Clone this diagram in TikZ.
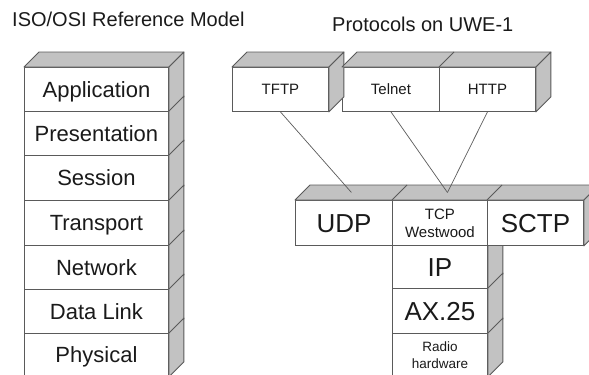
\documentclass[tikz,border=0pt]{standalone}
\usepackage{fontspec}
\setmainfont{Liberation Sans}
\usetikzlibrary{calc}
\definecolor{edgec}{HTML}{5A5A5A}
\definecolor{shadec}{HTML}{C2C2C2}
\definecolor{inkc}{HTML}{1A1A1A}
\begin{document}
\begin{tikzpicture}[x=1bp,y=-1bp,
  face/.style={draw=edgec, line width=0.9bp, fill=white, inner sep=0pt,
    anchor=north west, text=inkc},
  osi/.style={face, minimum width=144bp, font=\fontsize{22bp}{26bp}\selectfont,
    text height=15.8bp, text depth=0pt},
  big/.style={face, font=\fontsize{26bp}{30bp}\selectfont, text height=18.6bp, text depth=0pt},
  small/.style={face, font=\fontsize{15bp}{18bp}\selectfont, text height=10.7bp, text depth=0pt},
  twoline/.style={face, align=center},
  shade/.style={draw=edgec, line width=0.9bp, fill=shadec, line join=round},
  divider/.style={draw=edgec, line width=0.9bp},
  link/.style={draw=edgec, line width=0.7bp},
  title/.style={anchor=base west, inner sep=0pt, text=inkc, font=\fontsize{20bp}{24bp}\selectfont}]
\useasboundingbox (0,0) rectangle (589,374);
\clip (0,0) rectangle (589,374);
\def\dep{15}

% ---------------- titles
\node[title] (t1) at (12,26) {ISO/OSI Reference Model};
\node[title] (t2) at (332,31) {Protocols on UWE-1};

% ---------------- OSI stack
\node[osi, minimum height=44bp] (app) at (24,67) {Application};
\node[osi, minimum height=44bp] (pre) at (24,111) {Presentation};
\node[osi, minimum height=45bp] (ses) at (24,155) {Session};
\node[osi, minimum height=45bp] (tra) at (24,200) {Transport};
\node[osi, minimum height=44bp] (net) at (24,245) {Network};
\node[osi, minimum height=44bp] (dat) at (24,289) {Data Link};
\node[osi, minimum height=43bp] (phy) at (24,333) {Physical};
\draw[shade] (app.north west) -- ++(\dep,-\dep) -- ($(app.north east)+(\dep,-\dep)$) -- (app.north east) -- cycle;
\foreach \n in {app,pre,ses,tra,net,dat,phy}{
  \draw[shade] (\n.north east) -- ++(\dep,-\dep) -- ($(\n.south east)+(\dep,-\dep)$) -- (\n.south east) -- cycle;
}

% ---------------- application protocols
\node[small, minimum width=96bp, minimum height=44bp] (tftp) at (232,67) {TFTP};
\node[small, minimum width=97bp, minimum height=44bp] (telnet) at (342,67) {Telnet};
\node[small, minimum width=96bp, minimum height=44bp] (http) at (439,67) {HTTP};
\draw[shade] (tftp.north west) -- ++(\dep,-\dep) -- ($(tftp.north east)+(\dep,-\dep)$) -- (tftp.north east) -- cycle;
\draw[shade] (tftp.north east) -- ++(\dep,-\dep) -- ($(tftp.south east)+(\dep,-\dep)$) -- (tftp.south east) -- cycle;
\draw[shade] (telnet.north west) -- ++(\dep,-\dep) -- ($(http.north east)+(\dep,-\dep)$) -- (http.north east) -- cycle;
\draw[divider] (http.north west) -- ++(\dep,-\dep);
\draw[shade] (http.north east) -- ++(\dep,-\dep) -- ($(http.south east)+(\dep,-\dep)$) -- (http.south east) -- cycle;

% ---------------- lower stack (drawn before transport row)
\node[big, minimum width=95bp, minimum height=43bp] (ip) at (392,245) {IP};
\node[big, minimum width=95bp, minimum height=45bp] (ax) at (392,288) {AX.25};
\node[face, align=center, minimum width=95bp, minimum height=43bp,
  font=\fontsize{13.5bp}{17bp}\selectfont] (radio) at (392,333) {Radio\\hardware};
\foreach \n in {ip,ax,radio}{
  \draw[shade] (\n.north east) -- ++(\dep,-\dep) -- ($(\n.south east)+(\dep,-\dep)$) -- (\n.south east) -- cycle;
}

% ---------------- transport row
\node[big, minimum width=97bp, minimum height=45bp] (udp) at (295,200) {UDP};
\node[twoline, minimum width=95bp, minimum height=45bp,
  font=\fontsize{15bp}{18bp}\selectfont] (tcp) at (392,200) {TCP\\Westwood};
\node[big, minimum width=96bp, minimum height=45bp] (sctp) at (487,200) {SCTP};
\draw[shade] (udp.north west) -- ++(\dep,-\dep) -- ($(sctp.north east)+(\dep,-\dep)$) -- (sctp.north east) -- cycle;
\draw[divider] (tcp.north west) -- ++(\dep,-\dep);
\draw[divider] (sctp.north west) -- ++(\dep,-\dep);
\draw[shade] (sctp.north east) -- ++(\dep,-\dep) -- ($(sctp.south east)+(\dep,-\dep)$) -- (sctp.south east) -- cycle;

% ---------------- connectors
\coordinate (udptop) at ($(udp.north)+(7.5,-7.5)$);
\coordinate (tcptop) at ($(tcp.north)+(7.5,-7.5)$);
\draw[link] (tftp.south) -- (udptop);
\draw[link] (telnet.south) -- (tcptop);
\draw[link] (http.south) -- (tcptop);
\end{tikzpicture}
\end{document}
